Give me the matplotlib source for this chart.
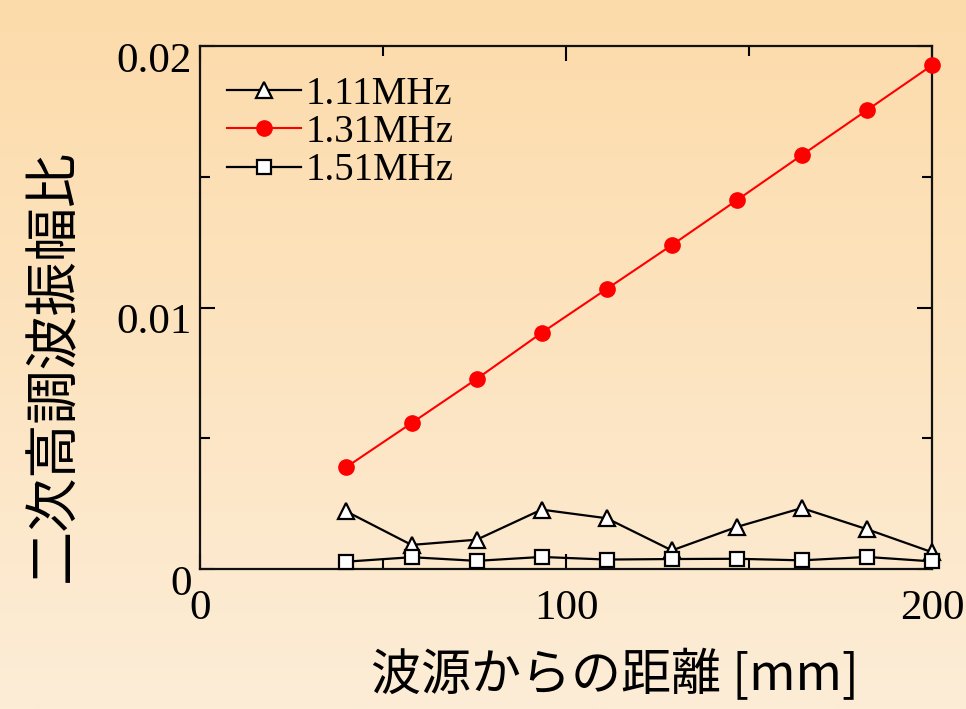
import matplotlib
matplotlib.use("Agg")
import matplotlib.pyplot as plt
import matplotlib.transforms as mtransforms
import numpy as np

# distance from source [mm]
distance = [40, 57.8, 75.6, 93.3, 111.1, 128.9, 146.7, 164.4, 182.2, 200]

# second-harmonic amplitude ratio for each drive frequency
ratio_111 = [0.00220, 0.00092, 0.00112, 0.00227, 0.00194,
             0.00071, 0.00161, 0.00233, 0.00152, 0.00064]
ratio_131 = [0.00390, 0.00558, 0.00727, 0.00903, 0.01071,
             0.01239, 0.01411, 0.01583, 0.01755, 0.01927]
ratio_151 = [0.00028, 0.00045, 0.00031, 0.00046, 0.00036,
             0.00038, 0.00039, 0.00033, 0.00046, 0.00029]

labels = ["1.11MHz", "1.31MHz", "1.51MHz"]

serif = "Liberation Serif"
cjk = ["Noto Sans CJK JP", "DejaVu Sans"]

fig = plt.figure(figsize=(9.66, 7.09), dpi=100)

# peach background, darker at the top
bg = fig.add_axes([0, 0, 1, 1], zorder=-10)
top = np.array([252, 219, 170]) / 255
bot = np.array([253, 237, 215]) / 255
t = np.linspace(0, 1, 256)[:, None]
grad = top[None, :] * (1 - t) + bot[None, :] * t
bg.imshow(grad[:, None, :], aspect="auto", extent=[0, 1, 0, 1])
bg.axis("off")

ax = fig.add_axes([0.207, 0.1975, 0.758, 0.7375])
ax.set_facecolor("none")

ax.plot(distance, ratio_111, color="black", lw=1.6, marker="^", ms=12,
        mfc="white", mec="black", mew=1.6, label=labels[0], clip_on=False, zorder=3)
ax.plot(distance, ratio_131, color="red", lw=1.5, marker="o", ms=11,
        mfc="red", mec="red", label=labels[1], clip_on=False, zorder=4)
ax.plot(distance, ratio_151, color="black", lw=1.6, marker="s", ms=10,
        mfc="white", mec="black", mew=1.6, label=labels[2], clip_on=False, zorder=5)

ax.set_xlim(0, 200)
ax.set_ylim(0, 0.02)
ax.set_xticks([0, 100, 200])
ax.set_xticks([50, 150], minor=True)
ax.set_yticks([0, 0.01, 0.02])
ax.set_yticks([0.005, 0.015], minor=True)
ax.set_xticklabels(["0", "100", "200"])
ax.set_yticklabels(["0", "0.01", "0.02"])

for s in ax.spines.values():
    s.set_linewidth(1.6)
    s.set_color("#111111")

ax.tick_params(which="both", direction="in", top=True, right=True, width=1.5)
ax.tick_params(which="major", length=11)
ax.tick_params(which="minor", length=7)
ax.tick_params(axis="x", which="major", pad=15)
ax.tick_params(axis="y", which="major", pad=6)

for lab in ax.get_xticklabels() + ax.get_yticklabels():
    lab.set_fontfamily(serif)
    lab.set_fontsize(31)

# y tick labels sit a little below their ticks
shift = mtransforms.ScaledTranslation(0, -8 / 72, fig.dpi_scale_trans)
for lab in ax.get_yticklabels():
    lab.set_transform(lab.get_transform() + shift)

ax.set_xlabel("波源からの距離 [mm]", family=cjk, fontsize=36)
ax.set_ylabel("二次高調波振幅比", family=cjk, fontsize=39)
ax.xaxis.set_label_coords(0.567, -0.155)
ax.yaxis.set_label_coords(-0.162, 0.39)

leg = ax.legend(loc="upper left", bbox_to_anchor=(0.0, 0.995), frameon=False,
                prop={"family": serif, "size": 28}, handlelength=1.9,
                handletextpad=0.12, labelspacing=0.03, borderaxespad=0.3)

fig.savefig("out.png", dpi=100)
